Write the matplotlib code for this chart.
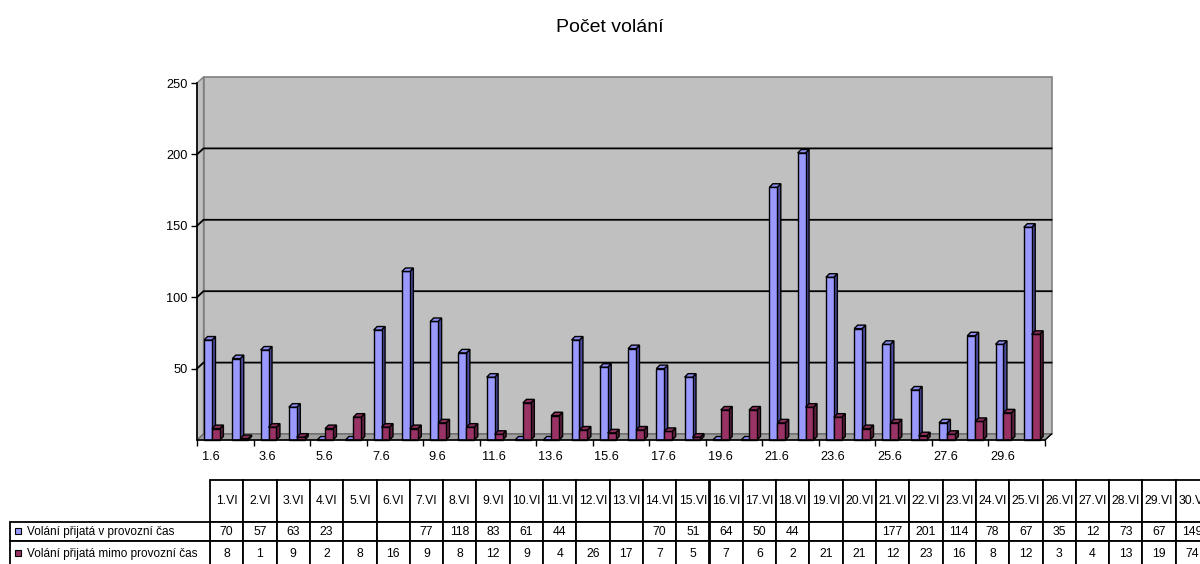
import numpy as np
import matplotlib
matplotlib.use('Agg')
import matplotlib.pyplot as plt
from matplotlib.patches import Polygon, Rectangle

plt.rcParams['font.family'] = ['Liberation Sans', 'DejaVu Sans']

title = 'Počet volání'
days = ['1.VI', '2.VI', '3.VI', '4.VI', '5.VI', '6.VI', '7.VI', '8.VI', '9.VI', '10.VI',
        '11.VI', '12.VI', '13.VI', '14.VI', '15.VI', '16.VI', '17.VI', '18.VI', '19.VI', '20.VI',
        '21.VI', '22.VI', '23.VI', '24.VI', '25.VI', '26.VI', '27.VI', '28.VI', '29.VI', '30.VI']
axis_labels = ['1.6', '3.6', '5.6', '7.6', '9.6', '11.6', '13.6', '15.6',
               '17.6', '19.6', '21.6', '23.6', '25.6', '27.6', '29.6']
series_names = ['Volání přijatá v provozní čas', 'Volání přijatá mimo provozní čas']
in_hours = [70, 57, 63, 23, None, None, 77, 118, 83, 61, 44, None, None, 70, 51,
            64, 50, 44, None, None, 177, 201, 114, 78, 67, 35, 12, 73, 67, 149]
off_hours = [8, 1, 9, 2, 8, 16, 9, 8, 12, 9, 4, 26, 17, 7, 5,
             7, 6, 2, 21, 21, 12, 23, 16, 8, 12, 3, 4, 13, 19, 74]
yticks = [50, 100, 150, 200, 250]

face_cols = ['#9999FF', '#993366']
side_cols = ['#4B4BA0', '#5E1F3F']
top_cols = ['#8C8CF0', '#8A2E5C']

W, H = 1200, 564
fig = plt.figure(figsize=(W / 100, H / 100), dpi=100)

# plot area in pixels (front plane)
x0, x1, yb, yt = 197, 1045, 440, 83
ax = fig.add_axes([x0 / W, (H - yb) / H, (x1 - x0) / W, (yb - yt) / H])
n = len(days)
ax.set_xlim(0, n)
ax.set_ylim(0, 250)
xs = n / (x1 - x0)       # data units per pixel
ys = 250 / (yb - yt)

# depth of the 3d box and of the bars
WX, WY = 6.5 * xs, 6 * ys
BX, BY = 3.5 * xs, 3.5 * ys

# walls and floor
ax.add_patch(Polygon([(0, 0), (0, 250), (WX, 250 + WY), (WX, WY)],
                     fc='#C0C0C0', ec='#808080', lw=1, clip_on=False, zorder=0))
ax.add_patch(Polygon([(WX, WY), (WX, 250 + WY), (n + WX, 250 + WY), (n + WX, WY)],
                     fc='#C0C0C0', ec='#808080', lw=1.2, clip_on=False, zorder=0))
ax.add_patch(Polygon([(0, 0), (n, 0), (n + WX, WY), (WX, WY)],
                     fc='#A0A0A0', ec='#606060', lw=0.8, clip_on=False, zorder=0.5))
ax.plot([n, n + WX], [0, WY], color='black', lw=1, clip_on=False, zorder=0.6)

# gridlines on side wall and back wall
for v in yticks[:-1]:
    ax.plot([0, WX, n + WX], [v, v + WY, v + WY], color='black', lw=1.3,
            clip_on=False, zorder=0.7)

# 3d-ish bars
idx = np.arange(n)
bw = 0.28
for k, vals in enumerate([in_hours, off_hours]):
    h = np.array([v if v is not None else 0 for v in vals], dtype=float)
    left = idx + 0.25 + k * bw
    bars = ax.bar(left, h, width=bw, align='edge', color=face_cols[k],
                  edgecolor='black', linewidth=1.0, zorder=3 + k, clip_on=False)
    for b in bars:
        bx, bh = b.get_x(), b.get_height()
        ax.add_patch(Polygon([(bx + bw, 0), (bx + bw + BX, BY), (bx + bw + BX, bh + BY), (bx + bw, bh)],
                             fc=side_cols[k], ec='black', lw=1.0, zorder=2.9 + k, clip_on=False))
        ax.add_patch(Polygon([(bx, bh), (bx + BX, bh + BY), (bx + bw + BX, bh + BY), (bx + bw, bh)],
                             fc=top_cols[k], ec='black', lw=1.0, zorder=3.1 + k, clip_on=False))

# axes
for s in ['top', 'right']:
    ax.spines[s].set_visible(False)
ax.spines['left'].set_linewidth(1.2)
ax.spines['bottom'].set_linewidth(1.2)
ax.spines['left'].set_zorder(6)
ax.spines['bottom'].set_zorder(6)
ax.set_facecolor('none')
ax.set_yticks(yticks)
ax.set_yticklabels([str(t) for t in yticks])
ax.set_xticks(np.arange(0, n + 1, 2))
ax.set_xticklabels([])
ax.set_xticks(np.arange(0.5, n, 2), minor=True)
ax.set_xticklabels(axis_labels, minor=True)
ax.tick_params(axis='y', length=4, width=1, pad=3, labelsize=9.2)
ax.tick_params(axis='x', which='major', length=4, width=1)
ax.tick_params(axis='x', which='minor', length=0, pad=8, labelsize=9.2)

fig.text(610 / W, 1 - 27 / H, title, ha='center', va='center', fontsize=14)

# data table below the chart
tax = fig.add_axes([0, 0, 1, 1])
tax.set_xlim(0, W)
tax.set_ylim(H, 0)
tax.axis('off')
tx0, cw = 210, 33.3
ry = [480, 522, 541, 566]
lw_t = 1.3
tcol = 'black'
fs = 8.8
for j, d in enumerate(days):
    cx = tx0 + j * cw
    tax.add_patch(Rectangle((cx, ry[0]), cw, ry[1] - ry[0], fc='white', ec=tcol, lw=lw_t))
    tax.text(cx + cw / 2, (ry[0] + ry[1]) / 2, d, ha='center', va='center', fontsize=fs)
    for r, vals in enumerate([in_hours, off_hours]):
        tax.add_patch(Rectangle((cx, ry[r + 1]), cw, ry[r + 2] - ry[r + 1], fc='white', ec=tcol, lw=lw_t))
        if vals[j] is not None:
            tax.text(cx + cw / 2, (ry[r + 1] + ry[r + 2]) / 2 + 0.5, str(vals[j]),
                     ha='center', va='center', fontsize=fs)
for r, name in enumerate(series_names):
    tax.add_patch(Rectangle((10, ry[r + 1]), tx0 - 10, ry[r + 2] - ry[r + 1], fc='white', ec=tcol, lw=lw_t))
    my = (ry[r + 1] + ry[r + 2]) / 2
    tax.add_patch(Rectangle((15, my - 3.5), 6, 6, fc=face_cols[r], ec='black', lw=0.8))
    tax.text(27, my + 0.5, name, ha='left', va='center', fontsize=fs - 0.3)

fig.savefig('out.png', dpi=100)
